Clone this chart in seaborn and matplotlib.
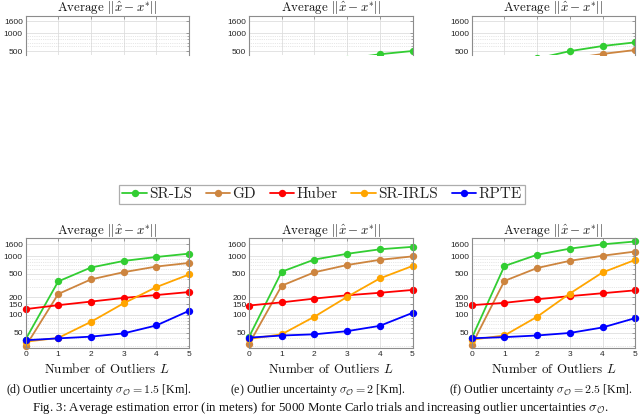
import numpy as np
import pandas as pd
import matplotlib
matplotlib.use('Agg')
import matplotlib.pyplot as plt
import seaborn as sns
from matplotlib.lines import Line2D
from matplotlib.ticker import LogLocator, NullFormatter, FixedLocator, FixedFormatter

# ---------------- data ----------------
L = [0, 1, 2, 3, 4, 5]
methods = ['SR-LS', 'GD', 'Huber', 'SR-IRLS', 'RPTE']
colors = ['#32cd32', '#cd853f', '#ff0000', '#ffa500', '#0000ff']
ytick_vals = [50, 100, 150, 200, 500, 1000, 1600]
ytick_labels = ['50', '100', '150', '200', '500', '1000', '1600']

# top row (mostly hidden below the cut)
a_srls = [35, 150, 230, 280, 320, 350]
a_gd = [28, 100, 160, 200, 230, 260]
a_huber = [110, 120, 130, 140, 150, 160]
a_irls = [33, 36, 45, 60, 80, 110]
a_rpte = [35, 36, 38, 40, 45, 55]

b_srls = [37, 220, 310, 370, 443, 503]
b_gd = [28, 150, 230, 290, 330, 370]
b_huber = [115, 130, 145, 160, 175, 190]
b_irls = [34, 38, 55, 90, 140, 210]
b_rpte = [36, 38, 40, 43, 50, 70]

c_srls = [39, 290, 375, 500, 611, 705]
c_gd = [30, 200, 300, 370, 448, 523]
c_huber = [120, 140, 155, 170, 190, 210]
c_irls = [36, 40, 65, 120, 210, 330]
c_rpte = [38, 39, 41, 45, 55, 75]

# bottom row
d_srls = [38, 370, 637, 824, 962, 1097]
d_gd = [29, 226, 400, 531, 662, 762]
d_huber = [125, 146, 168, 194, 217, 244]
d_irls = [35, 40.5, 76, 157, 296, 485]
d_rpte = [37, 39.8, 42.6, 48.4, 66, 117]

e_srls = [42, 541, 871, 1090, 1300, 1432]
e_gd = [32, 313, 529, 703, 861, 986]
e_huber = [144, 163, 189, 215, 237, 265]
e_irls = [39, 46.7, 93, 202, 416, 677]
e_rpte = [41, 44.5, 46.7, 52.8, 65, 108]

f_srls = [40, 675, 1050, 1334, 1578, 1766]
f_gd = [30.5, 377, 625, 828, 1011, 1191]
f_huber = [146, 160, 184, 208, 233, 261]
f_irls = [37.8, 44.6, 92.7, 230, 525, 859]
f_rpte = [40, 41.8, 44.6, 49.2, 61, 88]

panels_top = [
    [a_srls, a_gd, a_huber, a_irls, a_rpte],
    [b_srls, b_gd, b_huber, b_irls, b_rpte],
    [c_srls, c_gd, c_huber, c_irls, c_rpte],
]
panels_bottom = [
    [d_srls, d_gd, d_huber, d_irls, d_rpte],
    [e_srls, e_gd, e_huber, e_irls, e_rpte],
    [f_srls, f_gd, f_huber, f_irls, f_rpte],
]
subcaptions = [
    r'(d) Outlier uncertainty $\sigma_{\mathcal{O}} = 1.5$ [Km].',
    r'(e) Outlier uncertainty $\sigma_{\mathcal{O}} = 2$ [Km].',
    r'(f) Outlier uncertainty $\sigma_{\mathcal{O}} = 2.5$ [Km].',
]
subcaption_cx = [99, 318, 541]
title_text = r'Average $||\hat{x} - x^{*}||$'
xlabel_text = r'Number of Outliers $L$'
fig_caption = (r'Fig. 3: Average estimation error (in meters) for 5000 Monte Carlo trials '
               r'and increasing outlier uncertainties $\sigma_{\mathcal{O}}$.')

# ---------------- style ----------------
sns.set_theme(style='white')
plt.rcParams['font.family'] = ['Liberation Sans', 'DejaVu Sans']
plt.rcParams['mathtext.fontset'] = 'cm'
plt.rcParams['axes.formatter.use_mathtext'] = True

W, H = 640, 416
fig = plt.figure(figsize=(6.4, 4.16), dpi=100)

lefts = [25.5, 249.0, 471.7]
width_px = 163.5
spine_col = '#8c8c8c'
tick_col = '#262626'


def make_df(series):
    rows = []
    for m, vals in zip(methods, series):
        for x, v in zip(L, vals):
            rows.append((x, v, m))
    return pd.DataFrame(rows, columns=['L', 'err', 'method'])


def style_axis(ax, top_row=False):
    ax.set_yscale('log')
    ax.set_xlim(0, 5)
    ax.yaxis.set_major_locator(FixedLocator(ytick_vals))
    ax.yaxis.set_major_formatter(FixedFormatter(ytick_labels))
    ax.yaxis.set_minor_locator(LogLocator(base=10, subs=np.arange(2, 10), numticks=20))
    ax.yaxis.set_minor_formatter(NullFormatter())
    ax.set_xticks(L)
    ax.set_xticklabels([str(v) for v in L])
    ax.grid(which='major', color='#dedede', lw=0.6, ls='-')
    ax.grid(which='minor', axis='y', color='#d0d0d0', lw=0.5, ls=':')
    ax.set_axisbelow(True)
    for s in ax.spines.values():
        s.set_color(spine_col)
        s.set_linewidth(0.8)
    ax.tick_params(which='both', direction='in', top=True, right=True,
                   color=spine_col, labelcolor=tick_col, labelsize=6.0, pad=2)
    ax.tick_params(which='major', length=2.5, width=0.6)
    ax.tick_params(which='minor', length=1.4, width=0.5)
    ax.set_xlabel('')
    ax.set_ylabel('')
    ax.set_title(title_text, fontfamily='cmr10', fontsize=9.3, pad=3.0, color='#111111')
    if top_row:
        ax.spines['bottom'].set_visible(False)
        ax.tick_params(which='both', bottom=False, labelbottom=False)


def draw(ax, series, clip=True):
    df = make_df(series)
    sns.lineplot(data=df, x='L', y='err', hue='method', hue_order=methods,
                 palette=colors, marker='o', markersize=5.3, markeredgewidth=0,
                 linewidth=1.3, ax=ax, legend=False, clip_on=clip)


# top row (cut off below)
top_y0, top_y1 = 15.7, 55.0
for i, series in enumerate(panels_top):
    ax = fig.add_axes([lefts[i] / W, 1 - top_y1 / H, width_px / W, (top_y1 - top_y0) / H])
    draw(ax, series, clip=True)
    style_axis(ax, top_row=True)
    ax.set_ylim(430, 2000)

# bottom row
bot_y0, bot_y1 = 238.3, 348.3
for i, series in enumerate(panels_bottom):
    ax = fig.add_axes([lefts[i] / W, 1 - bot_y1 / H, width_px / W, (bot_y1 - bot_y0) / H])
    draw(ax, series, clip=False)
    style_axis(ax)
    ax.set_ylim(27, 2000)
    ax.set_xlabel(xlabel_text, fontfamily='cmr10', fontsize=9.4, labelpad=2.5, color='#111111')
    fig.text(subcaption_cx[i] / W, 1 - 390.5 / H, subcaptions[i], ha='center', va='center',
             fontfamily='Liberation Serif', fontsize=8.6, color='#111111')

fig.text(0.5, 1 - 407.5 / H, fig_caption, ha='center', va='center',
         fontfamily='Liberation Serif', fontsize=9.3, color='#111111')

handles = [Line2D([], [], color=c, marker='o', markersize=5.3, markeredgewidth=0, lw=1.3)
           for c in colors]
leg = fig.legend(handles, methods, loc='center', bbox_to_anchor=(322 / W, 1 - 194.5 / H),
                 ncol=5, frameon=True, fancybox=False, edgecolor='#999999',
                 prop={'family': 'cmr10', 'size': 11}, handlelength=1.6,
                 handletextpad=0.15, columnspacing=0.9, borderpad=0.2,
                 borderaxespad=0)
leg.get_frame().set_linewidth(0.9)

fig.savefig('out.png', dpi=100)
